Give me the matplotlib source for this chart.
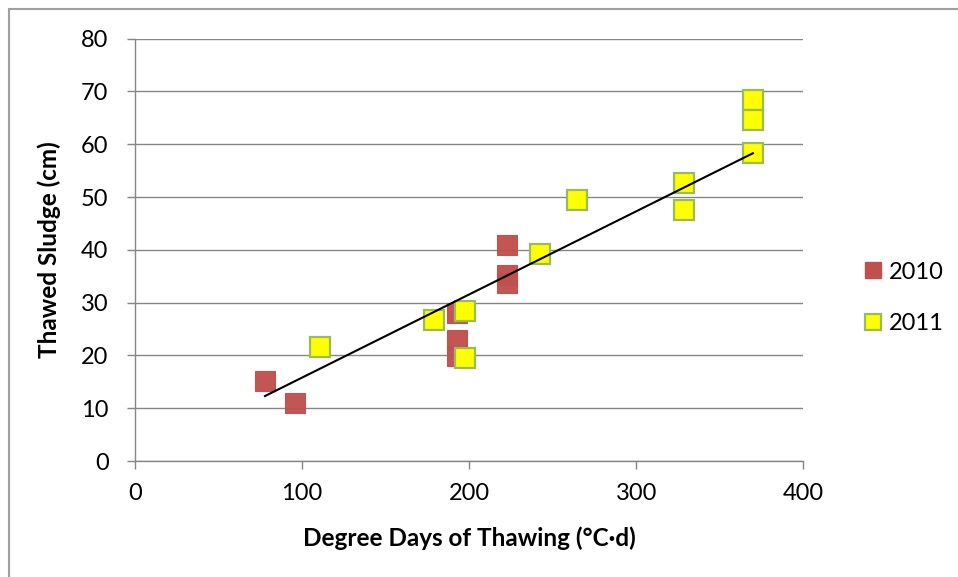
import matplotlib
matplotlib.use("Agg")
import matplotlib.pyplot as plt
import numpy as np
from matplotlib.patches import Rectangle
from matplotlib.lines import Line2D

plt.rcParams['font.family'] = ['Lato', 'DejaVu Sans']

# Data
x2010 = [77.8, 95.8, 192.7, 192.7, 192.7, 222.6, 222.6, 222.6]
y2010 = [15.1, 11.0, 28.1, 22.9, 19.9, 41.0, 35.2, 33.7]
x2011 = [110.7, 179.2, 197.8, 197.8, 242.4, 264.5, 328.8, 328.8, 369.8, 369.8, 369.8]
y2011 = [21.6, 26.7, 28.5, 19.6, 39.3, 49.5, 52.6, 47.6, 68.4, 64.6, 58.3]
labels = ['2010', '2011']
xticks = [0, 100, 200, 300, 400]
yticks = [0, 10, 20, 30, 40, 50, 60, 70, 80]
# Linear trendline coefficients
trend_slope = 0.1575
trend_intercept = 0.05

W, H = 958, 577
fig = plt.figure(figsize=(W / 100, H / 100), dpi=100)
ax = fig.add_axes([135 / W, 1 - 461 / H, (803.3 - 135) / W, (461 - 38.7) / H])

grid_c = '#868686'
ax.set_xlim(0, 400)
ax.set_ylim(0, 80)
ax.set_xticks(xticks)
ax.set_yticks(yticks)
ax.yaxis.grid(True, color=grid_c, lw=1.0)
ax.set_axisbelow(True)
for s in ['top', 'right']:
    ax.spines[s].set_visible(False)
for s in ['left', 'bottom']:
    ax.spines[s].set_color(grid_c)
    ax.spines[s].set_linewidth(1.0)
ax.tick_params(axis='both', direction='out', length=6, width=1.0, color=grid_c,
               labelsize=17, labelcolor='black')
ax.tick_params(axis='y', pad=13)
ax.tick_params(axis='x', pad=10)

ms = 14
ax.plot(x2010, y2010, linestyle='none', marker='s', markersize=ms,
        markerfacecolor='#C0504D', markeredgecolor='#C0504D', markeredgewidth=0.8,
        alpha=0.97, label=labels[0], zorder=3)
ax.plot(x2011, y2011, linestyle='none', marker='s', markersize=ms,
        markerfacecolor='#FFFF00', markeredgecolor='#9BBB59', markeredgewidth=1.6,
        label=labels[1], zorder=4)

xa = np.array(x2010 + x2011)
xl = np.array([xa.min(), xa.max()])
ax.plot(xl, trend_slope * xl + trend_intercept, color='black', lw=1.5, zorder=5)

ax.set_xlabel('Degree Days of Thawing (°C·d)', fontsize=17.5, fontweight='bold')
ax.set_ylabel('Thawed Sludge (cm)', fontsize=17.5, fontweight='bold')
ax.xaxis.set_label_coords(0.501, -0.155)
ax.yaxis.set_label_coords(-0.111, 0.5)

h1 = Line2D([], [], linestyle='none', marker='s', markersize=12,
            markerfacecolor='#C0504D', markeredgecolor='#C0504D')
h2 = Line2D([], [], linestyle='none', marker='s', markersize=12,
            markerfacecolor='#FFFF00', markeredgecolor='#9BBB59', markeredgewidth=1.6)
fig.legend([h1, h2], labels, loc='center left', bbox_to_anchor=(842 / W, 1 - 298 / H),
           frameon=False, fontsize=17, handlelength=0.8, handletextpad=0.3,
           labelspacing=1.3)

fig.add_artist(Rectangle((9 / W, -0.1), 1.2, 1 - 9 / H + 0.1, transform=fig.transFigure,
                         fill=False, edgecolor='#a0a0a0', lw=1.5))

fig.savefig('out.png', dpi=100)
